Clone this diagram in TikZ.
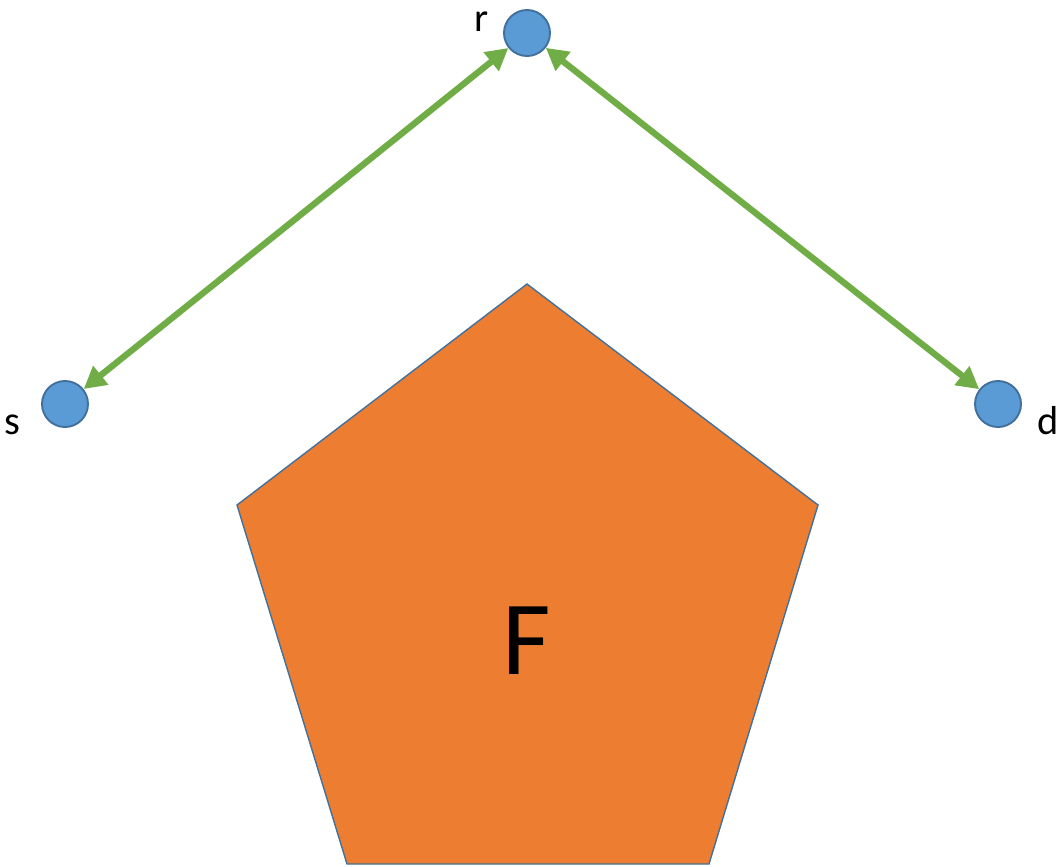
\documentclass[tikz,border=0pt]{standalone}
\usepackage{fontspec}
\setmainfont{Carlito}
\usetikzlibrary{arrows.meta}
\definecolor{dotfill}{HTML}{5B9BD5}
\definecolor{dotedge}{HTML}{41719C}
\definecolor{pentfill}{HTML}{ED7D31}
\definecolor{linkgreen}{HTML}{70AD47}
\begin{document}
\begin{tikzpicture}[x=0.02cm,y=-0.02cm,
  every node/.style={font=\fontsize{23}{27}\selectfont},
  dot/.style={circle,draw=dotedge,fill=dotfill,line width=1.1pt,minimum size=0.92cm,inner sep=0pt},
  link/.style={{Triangle[length=0.44cm,width=0.46cm]}-{Triangle[length=0.44cm,width=0.46cm]},linkgreen,line width=3.6pt}]
\useasboundingbox (0,0) rectangle (1064,866);
\draw[draw=dotedge,fill=pentfill,line width=0.8pt] (527,284) -- (818,505) -- (709,864) -- (347,864) -- (237,505) -- cycle;
\node[anchor=base,font=\fontsize{60}{66}\selectfont] (F) at (527,674) {F};
\node[dot] (r) at (527,33) {};
\node[dot] (s) at (65,404) {};
\node[dot] (d) at (998,404) {};
\node[anchor=base] (rlabel) at (482,31) {r};
\node[anchor=base] (slabel) at (12,434) {s};
\node[anchor=base] (dlabel) at (1048,434) {d};
\draw[link] (s) -- (r);
\draw[link] (r) -- (d);
\end{tikzpicture}
\end{document}
